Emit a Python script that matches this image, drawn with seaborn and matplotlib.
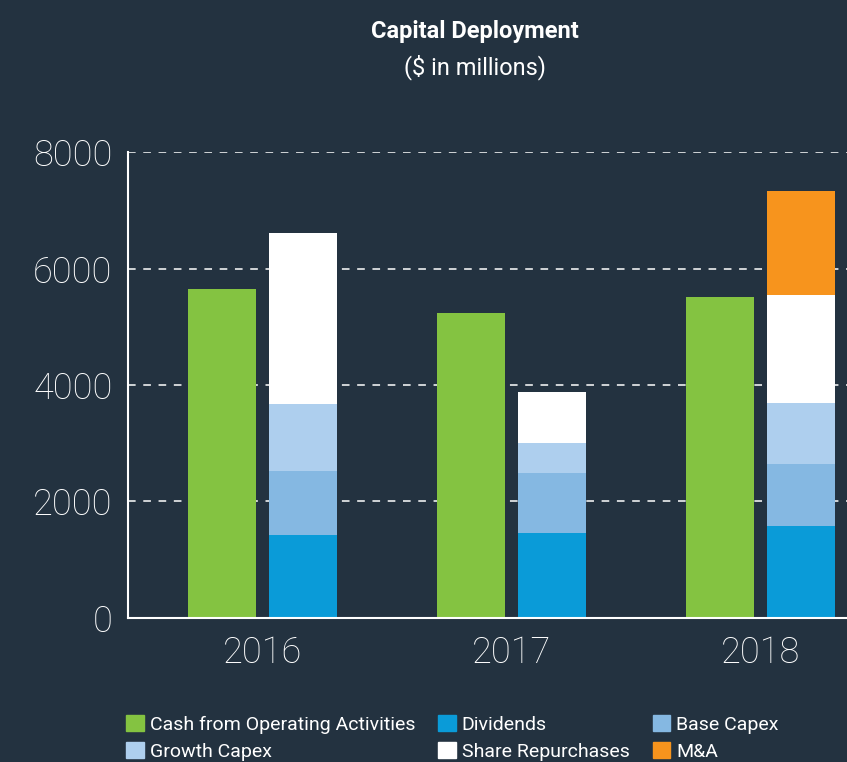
import matplotlib.pyplot as plt
import matplotlib.patches as mpatches
import pandas as pd
import seaborn as sns

# values ($ in millions)
years = ["2016", "2017", "2018"]
cash_from_operations = [5650, 5240, 5510]
dividends = [1425, 1460, 1580]
base_capex = [1100, 1030, 1065]
growth_capex = [1150, 515, 1045]
share_repurchases = [2935, 875, 1855]
m_and_a = [0, 0, 1785]

legend_order = ["Cash from Operating Activities", "Dividends", "Base Capex",
                "Growth Capex", "Share Repurchases", "M&A"]
colors = {
    "Cash from Operating Activities": "#84c341",
    "Dividends": "#0a9bd8",
    "Base Capex": "#85b8e2",
    "Growth Capex": "#aecfee",
    "Share Repurchases": "#ffffff",
    "M&A": "#f7941d",
}
background = "#233240"

sns.set_style("dark")
plt.rcParams["font.family"] = ["Roboto", "DejaVu Sans"]

fig = plt.figure(figsize=(8.47, 7.62), dpi=100, facecolor=background)
ax = fig.add_axes([0.151, 0.189, 0.849, 0.6115])
ax.set_facecolor(background)

hue_order = ["sources", "uses"]
bar_kws = dict(x="year", y="value", hue="side", hue_order=hue_order, order=years,
               dodge=True, width=0.65, gap=0.16, linewidth=0, errorbar=None,
               saturation=1, legend=False, ax=ax, zorder=2)

# left bar: cash generated
cash_df = pd.DataFrame({"year": years, "side": "sources", "value": cash_from_operations})
sns.barplot(data=cash_df, palette={"sources": colors[legend_order[0]], "uses": "#000000"}, **bar_kws)

# right bar: uses of cash, stacked by overlaying cumulative totals
stack = pd.DataFrame({
    "Dividends": dividends,
    "Base Capex": base_capex,
    "Growth Capex": growth_capex,
    "Share Repurchases": share_repurchases,
    "M&A": m_and_a,
}, index=years)
cumulative = stack.cumsum(axis=1)
for name in reversed(stack.columns):
    layer = pd.DataFrame({"year": years, "side": "uses", "value": cumulative[name].values})
    sns.barplot(data=layer, palette={"sources": "#000000", "uses": colors[name]}, **bar_kws)

ax.set_xlim(-0.54, 2.347)
ax.set_ylim(0, 8000)
ax.set_yticks([0, 2000, 4000, 6000, 8000])
ax.set_xlabel("")
ax.set_ylabel("")

ax.yaxis.grid(True, color="white", linestyle=(0, (5, 5)), linewidth=1.1)
ax.xaxis.grid(False)
ax.set_axisbelow(True)
for side in ["top", "right"]:
    ax.spines[side].set_visible(False)
for side in ["left", "bottom"]:
    ax.spines[side].set_visible(True)
    ax.spines[side].set_color("white")
    ax.spines[side].set_linewidth(1.5)

ax.tick_params(axis="both", length=0, colors="white")
ax.tick_params(axis="y", pad=11, labelsize=26)
ax.tick_params(axis="x", pad=12, labelsize=26)
for label in ax.get_xticklabels() + ax.get_yticklabels():
    label.set_fontweight("light")

fig.text(0.561, 0.959, "Capital Deployment", color="white", fontsize=17,
         fontweight="bold", ha="center", va="center")
fig.text(0.561, 0.912, "($ in millions)", color="white", fontsize=17,
         ha="center", va="center")

# legend fills column-first, so interleave to get the reference row order
handle_order = [legend_order[i] for i in (0, 3, 1, 4, 2, 5)]
handles = [mpatches.Patch(color=colors[n], label=n) for n in handle_order]
fig.legend(handles=handles, ncol=3, loc="upper left", bbox_to_anchor=(0.149, 0.062),
           frameon=False, fontsize=14, labelcolor="white", handlelength=0.9,
           handleheight=0.9, handletextpad=0.3, columnspacing=1.2, labelspacing=0.45,
           borderaxespad=0, borderpad=0)

fig.savefig("out.png", dpi=100, facecolor=background)
